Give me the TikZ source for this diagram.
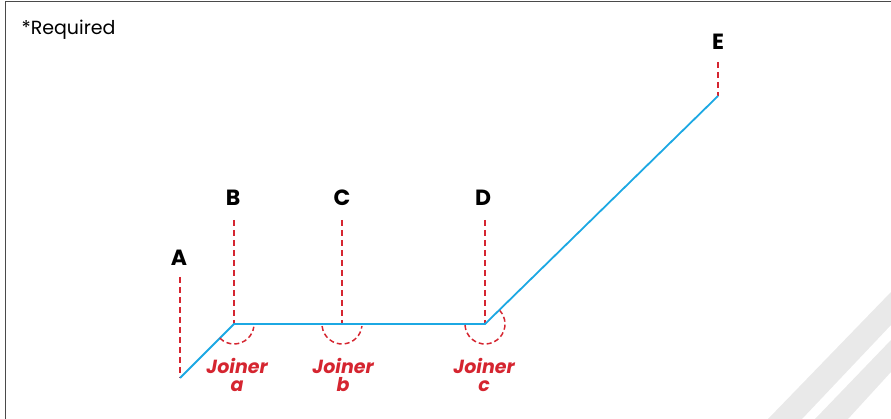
\documentclass[tikz,border=0pt]{standalone}
\usepackage{fontspec}
\setmainfont{Poppins}
\definecolor{pipeblue}{HTML}{1CA8E3}
\definecolor{joinred}{HTML}{D52530}
\definecolor{stripegray}{HTML}{E9E9E9}
\definecolor{framegray}{HTML}{4A4A4A}
\tikzset{
  leader/.style={joinred,line width=1.8pt,dash pattern=on 6pt off 4pt},
  joinarc/.style={joinred,line width=1.5pt,dash pattern=on 5pt off 3pt},
  pointlabel/.style={font=\fontsize{22}{22}\selectfont\bfseries,text=black},
  joinlabel/.style={font=\fontsize{19}{18}\selectfont\bfseries\itshape,text=joinred,align=center,inner sep=1pt}
}
\begin{document}
\begin{tikzpicture}[x=1pt,y=1pt]
  \useasboundingbox (0,0) rectangle (891,419);
  % background stripes
  \fill[stripegray] (768,0) -- (891,127) -- (891,94) -- (802,0) -- cycle;
  \fill[stripegray] (815,0) -- (891,79) -- (891,47) -- (848,0) -- cycle;
  % frame
  \draw[framegray,line width=1.5pt] (5.5,0) -- (5.5,417.5) -- (891,417.5);
  \node[anchor=west,font=\fontsize{19}{19}\selectfont] (req) at (18,389) {*Required};
  % points on the run
  \coordinate (a) at (180,41);
  \coordinate (b) at (234,95);
  \coordinate (c) at (342,95);
  \coordinate (d) at (485,95);
  \coordinate (e) at (718,323);
  % tops of the leaders
  \coordinate (topa) at (180,142);
  \coordinate (topb) at (234,199);
  \coordinate (topc) at (342,199);
  \coordinate (topd) at (485,199);
  \coordinate (tope) at (718,357);
  % labels
  \node[pointlabel] (la) at (179,161) {A};
  \node[pointlabel] (lb) at (233,221) {B};
  \node[pointlabel] (lc) at (342,221) {C};
  \node[pointlabel] (ld) at (483,221) {D};
  \node[pointlabel] (le) at (718,377) {E};
  % leaders
  \draw[leader] (topa) -- (a);
  \draw[leader] (topb) -- (b);
  \draw[leader] (topc) -- (c);
  \draw[leader] (topd) -- (d);
  \draw[leader] (tope) -- (e);
  % the run
  \draw[pipeblue,line width=1.8pt] (a) -- (b) -- (c) -- (d) -- (e);
  % joiners
  \draw[joinarc] (b) ++(225:20) arc[start angle=225,end angle=352,radius=20];
  \draw[joinarc] (c) ++(186:20) arc[start angle=186,end angle=354,radius=20];
  \draw[joinarc] (d) ++(183:20) arc[start angle=183,end angle=402,radius=20];
  \node[joinlabel] (ja) at (237,44) {Joiner\\a};
  \node[joinlabel] (jb) at (343,44) {Joiner\\b};
  \node[joinlabel] (jc) at (484,44) {Joiner\\c};
\end{tikzpicture}
\end{document}
